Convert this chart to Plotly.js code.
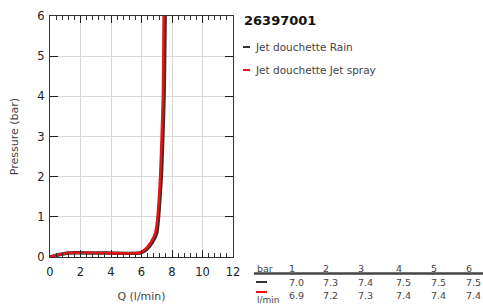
<!DOCTYPE html>
<html>
<head>
<meta charset="utf-8">
<script src="https://cdn.plot.ly/plotly-3.0.1.min.js"></script>
<style>html,body{margin:0;padding:0;background:#fff;}#chart{width:483px;height:306px;}</style>
</head>
<body>
<div id="chart"></div>
<script>
// Data
const rainQ = [0, 0.5, 1.2, 3.0, 5.9, 6.3, 6.7, 7.0, 7.12, 7.3, 7.4, 7.48, 7.52, 7.55];
const rainP = [0, 0.05, 0.1, 0.1, 0.1, 0.18, 0.36, 0.6, 1.0, 2.0, 3.0, 4.0, 5.0, 6.0];
const jetQ = [0, 0.5, 1.2, 3.0, 5.8, 6.2, 6.6, 6.9, 7.05, 7.22, 7.32, 7.4, 7.43, 7.45];
const jetP = [0, 0.05, 0.1, 0.1, 0.1, 0.18, 0.36, 0.6, 1.0, 2.0, 3.0, 4.0, 5.0, 6.0];
const seriesNames = ['Jet douchette Rain', 'Jet douchette Jet spray'];
const seriesColors = ['#333333', '#ee1111'];
const chartTitle = '26397001';
const tableBar = ['1', '2', '3', '4', '5', '6'];
const tableRain = ['7.0', '7.3', '7.4', '7.5', '7.5', '7.5'];
const tableJet = ['6.9', '7.2', '7.3', '7.4', '7.4', '7.4'];

const L = 50, R = 233, T = 16, B = 257;
const px = v => (v - L) / (R - L);
const py = v => (B - v) / (B - T);
const font = 'DejaVu Sans, sans-serif';

const traces = [
  {x: rainQ, y: rainP, mode: 'lines', name: seriesNames[0], line: {color: seriesColors[0], width: 3.5, shape: 'spline', smoothing: 0.5}, showlegend: false},
  {x: jetQ, y: jetP, mode: 'lines', name: seriesNames[1], line: {color: seriesColors[1], width: 2.5, shape: 'spline', smoothing: 0.5}, showlegend: false}
];

const ann = [];
const shapes = [];
ann.push({xref: 'paper', yref: 'paper', x: px(242), y: py(20), xanchor: 'left', yanchor: 'middle', text: '<b>' + chartTitle + '</b>', showarrow: false, font: {family: font, size: 13, color: '#111'}});
seriesNames.forEach((n, i) => {
  const yy = 47 + i * 23;
  shapes.push({type: 'line', xref: 'paper', yref: 'paper', x0: px(243), x1: px(250), y0: py(yy), y1: py(yy), line: {color: seriesColors[i], width: 2}});
  ann.push({xref: 'paper', yref: 'paper', x: px(253), y: py(yy), xanchor: 'left', yanchor: 'middle', text: n, showarrow: false, font: {family: font, size: 10.5, color: '#444'}});
});
// table
const colX = [287, 321, 356, 394, 429, 464];
const tf = {family: font, size: 9.5, color: '#444'};
ann.push({xref: 'paper', yref: 'paper', x: px(255), y: py(268), xanchor: 'left', yanchor: 'middle', text: 'bar', showarrow: false, font: tf});
tableBar.forEach((t, i) => {
  ann.push({xref: 'paper', yref: 'paper', x: px(colX[i]), y: py(268), xanchor: 'left', yanchor: 'middle', text: t, showarrow: false, font: tf});
  ann.push({xref: 'paper', yref: 'paper', x: px(colX[i]), y: py(282), xanchor: 'left', yanchor: 'middle', text: tableRain[i], showarrow: false, font: tf});
  ann.push({xref: 'paper', yref: 'paper', x: px(colX[i]), y: py(295), xanchor: 'left', yanchor: 'middle', text: tableJet[i], showarrow: false, font: tf});
});
shapes.push({type: 'line', xref: 'paper', yref: 'paper', x0: px(254), x1: px(483), y0: py(273.5), y1: py(273.5), line: {color: '#444', width: 2.5}});
shapes.push({type: 'line', xref: 'paper', yref: 'paper', x0: px(256), x1: px(267), y0: py(282), y1: py(282), line: {color: seriesColors[0], width: 2}});
shapes.push({type: 'line', xref: 'paper', yref: 'paper', x0: px(256), x1: px(267), y0: py(292), y1: py(292), line: {color: seriesColors[1], width: 2}});
ann.push({xref: 'paper', yref: 'paper', x: px(255), y: py(299.5), xanchor: 'left', yanchor: 'middle', text: 'l/min', showarrow: false, font: {family: font, size: 9, color: '#444'}});

const layout = {
  width: 483, height: 306,
  margin: {l: L, r: 483 - R, t: T, b: 306 - B, pad: 0},
  paper_bgcolor: '#fff', plot_bgcolor: '#fff',
  font: {family: font, size: 11, color: '#222'},
  xaxis: {
    range: [0, 12], dtick: 2, tick0: 0, ticks: 'inside', ticklen: 7, tickcolor: '#222', tickwidth: 1,
    showline: true, linecolor: '#333', linewidth: 1, mirror: 'allticks',
    showgrid: true, gridcolor: '#d8d8d8', gridwidth: 1, zeroline: false,
    minor: {dtick: 0.4, ticks: 'inside', ticklen: 4, tickcolor: '#333', showgrid: false},
    ticklabelstandoff: 4,
    title: {text: 'Q (l/min)', font: {family: font, size: 11, color: '#444'}, standoff: 14},
    tickfont: {family: font, size: 11.5, color: '#222'}, fixedrange: true
  },
  yaxis: {
    range: [0, 6], dtick: 1, tick0: 0, ticks: 'inside', ticklen: 8, tickcolor: '#222', tickwidth: 1,
    showline: true, linecolor: '#333', linewidth: 1, mirror: 'allticks',
    showgrid: true, gridcolor: '#d8d8d8', gridwidth: 1, zeroline: false,
    ticklabelstandoff: 2,
    title: {text: 'Pressure (bar)', font: {family: font, size: 11, color: '#444'}, standoff: 16},
    tickfont: {family: font, size: 11.5, color: '#222'}, fixedrange: true
  },
  annotations: ann,
  shapes: shapes,
  showlegend: false
};
Plotly.newPlot('chart', traces, layout, {displayModeBar: false, staticPlot: true});
</script>
</body>
</html>
